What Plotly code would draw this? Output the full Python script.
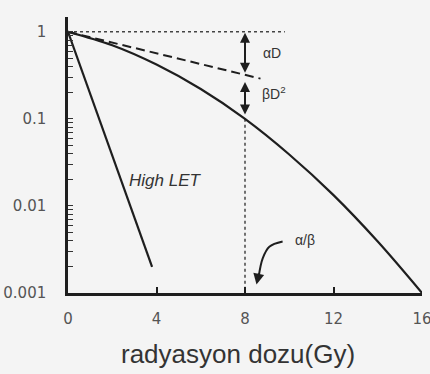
import math
import plotly.graph_objects as go

# ---- data ----
lq_dose = [0, 2, 4, 6, 8, 10, 12, 14, 16]
lq_surv = [1.0, 0.70, 0.42, 0.22, 0.10, 0.039, 0.0133, 0.0039, 0.001]

alpha_dose = [0, 8.7]
alpha_surv = [1.0, 0.29]

high_let_dose = [0, 3.8]
high_let_surv = [1.0, 0.002]

ref_h_dose = [0, 9.8]
ref_h_surv = [1.0, 1.0]

ref_v_dose = [8, 8]
ref_v_surv = [0.1, 0.001]

curl_dose = [9.7, 9.1, 8.8, 8.62]
curl_surv = [0.0039, 0.0034, 0.0025, 0.00155]

x_ticks = [0, 4, 8, 12, 16]
x_tick_text = ["0", "4", "8", "12", "16"]
y_ticks = [0.001, 0.01, 0.1, 1]
y_tick_text = ["0.001", "0.01", "0.1", "1"]
y_minor = [m * 10.0 ** e for e in (-3, -2, -1) for m in range(2, 10)]

ink = "#1e1e1e"
bg = "#f4f4f4"

fig = go.Figure()
fig.add_trace(go.Scatter(x=ref_h_dose, y=ref_h_surv, mode="lines",
                         line=dict(color="#444", width=1.5, dash="dot")))
fig.add_trace(go.Scatter(x=ref_v_dose, y=ref_v_surv, mode="lines",
                         line=dict(color="#444", width=1.5, dash="dot")))
fig.add_trace(go.Scatter(x=alpha_dose, y=alpha_surv, mode="lines",
                         line=dict(color=ink, width=2, dash="9px,5px")))
fig.add_trace(go.Scatter(x=lq_dose, y=lq_surv, mode="lines",
                         line=dict(color=ink, width=2.2, shape="spline", smoothing=1.0)))
fig.add_trace(go.Scatter(x=high_let_dose, y=high_let_surv, mode="lines",
                         line=dict(color=ink, width=2.2)))
fig.add_trace(go.Scatter(x=curl_dose, y=curl_surv, mode="lines",
                         line=dict(color=ink, width=2, shape="spline")))

lg = math.log10
annos = [
    dict(x=8, y=lg(1.0), ax=8, ay=lg(0.30), xref="x", yref="y", axref="x", ayref="y",
         showarrow=True, arrowhead=2, arrowsize=1, arrowwidth=2, arrowcolor=ink,
         arrowside="end+start", standoff=1, startstandoff=3, text=""),
    dict(x=8, y=lg(0.28), ax=8, ay=lg(0.102), xref="x", yref="y", axref="x", ayref="y",
         showarrow=True, arrowhead=2, arrowsize=1, arrowwidth=2, arrowcolor=ink,
         arrowside="end+start", standoff=2, startstandoff=2, text=""),
    dict(x=8.52, y=lg(0.00125), ax=8.64, ay=lg(0.00175), xref="x", yref="y", axref="x", ayref="y",
         showarrow=True, arrowhead=2, arrowsize=1.1, arrowwidth=2, arrowcolor=ink, text=""),
    dict(x=9.2, y=lg(0.575), text="αD", showarrow=False,
         font=dict(size=14, color="#333", family="Liberation Sans")),
    dict(x=9.3, y=lg(0.20), text="βD<sup>2</sup>", showarrow=False,
         font=dict(size=14, color="#333", family="Liberation Sans")),
    dict(x=10.7, y=lg(0.0041), text="α/β", showarrow=False,
         font=dict(size=14, color="#333", family="Liberation Sans")),
    dict(x=4.4, y=lg(0.0195), text="<i>High LET</i>", showarrow=False,
         font=dict(size=17, color="#333", family="Liberation Sans")),
    dict(x=0.48, y=-0.222, xref="paper", yref="paper", text="radyasyon dozu(Gy)",
         showarrow=False, yanchor="middle",
         font=dict(size=26, color="#333", family="Liberation Sans")),
]

all_y_ticks = y_ticks + y_minor
all_y_text = y_tick_text + [""] * len(y_minor)

fig.update_layout(
    width=430, height=374,
    margin=dict(l=68, r=8, t=17, b=81),
    paper_bgcolor=bg, plot_bgcolor=bg,
    showlegend=False,
    annotations=annos,
    xaxis=dict(range=[0, 16], showline=True, linewidth=2.5, linecolor=ink,
               showgrid=False, zeroline=False, automargin=False,
               tickmode="array", tickvals=x_ticks, ticktext=x_tick_text,
               ticks="inside", ticklen=6, tickwidth=1.5, tickcolor=ink,
               ticklabelstandoff=10, ticklabeloverflow="allow",
               tickfont=dict(size=15, color="#555", family="DejaVu Sans")),
    yaxis=dict(type="log", range=[-3, 0.17], showline=True, linewidth=2.5, linecolor=ink,
               showgrid=False, zeroline=False, automargin=False,
               tickmode="array", tickvals=all_y_ticks, ticktext=all_y_text,
               ticks="inside", ticklen=5, tickwidth=1.3, tickcolor="#333",
               ticklabelstandoff=16, ticklabeloverflow="allow",
               tickfont=dict(size=15, color="#555", family="DejaVu Sans")),
)

fig.write_html(
    "out.html",
    config={"displayModeBar": False},
    post_script="document.body.style.margin='0';document.body.style.background='%s';" % bg,
)
